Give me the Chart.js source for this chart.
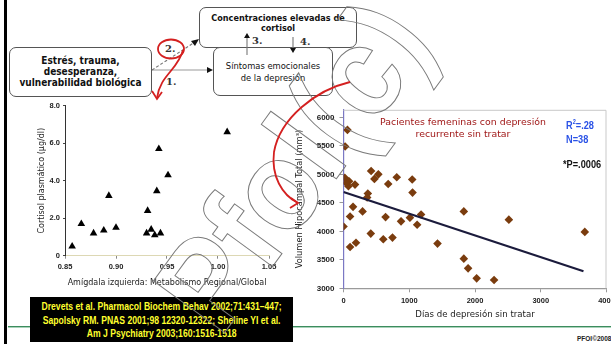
<!DOCTYPE html>
<html>
<head>
<meta charset="utf-8">
<script src="https://cdn.jsdelivr.net/npm/chart.js@4.4.1/dist/chart.umd.min.js"></script>
<style>
  html, body { margin: 0; padding: 0; }
  body { width: 611px; height: 344px; overflow: hidden; position: relative; background: #fff; font-family: "DejaVu Sans", sans-serif; }
  .abs { position: absolute; }
  .box { position: absolute; box-sizing: border-box; border: 1.3px solid #555; border-radius: 7px; background: #fff;
         text-align: center; color: #111; font-family: "DejaVu Sans Condensed", "DejaVu Sans", sans-serif; font-stretch: condensed; }
  #box1 { left: 9px; top: 47px; width: 143px; height: 50px; font-weight: bold; font-size: 10px; line-height: 11px; padding-top: 7px; }
  #box2 { left: 199px; top: 7px; width: 158px; height: 41px; font-weight: bold; font-size: 9px; line-height: 10px; padding-top: 5px; }
  #box3 { left: 213px; top: 47px; width: 120px; height: 49px; font-size: 9.3px; line-height: 11.5px; padding-top: 12px; z-index: 2; }
  .num { position: absolute; font: bold 10px "DejaVu Serif", serif; color: #333; }
  #bar { left: 4px; top: 0; width: 3px; height: 344px; background: #000; }
  #green1 { left: 8px; top: 326px; width: 603px; height: 1px; background: #3d8c5e; }
  #green2 { left: 8px; top: 327px; width: 603px; height: 1px; background: #a9d3ba; }
  #cite { left: 30px; top: 297px; width: 263px; height: 45px; background: #000; overflow: hidden; z-index: 3; }
  #cite div { width: 321px; transform-origin: 0 0; transform: scaleX(0.82); color: #ffff2e; font: bold 10.5px "Liberation Sans", sans-serif;
              line-height: 13.5px; text-align: center; padding-top: 3px; }
  #pfoi { left: 577px; top: 335px; font: bold 6.5px "Liberation Sans", sans-serif; color: #222; }
  #ttl { left: 363px; top: 116px; width: 200px; text-align: center; color: #a01818; font: 9.4px "DejaVu Sans", sans-serif; line-height: 12.3px; z-index: 4; }
  .stat { position: absolute; transform-origin: 0 0; transform: scaleX(0.8); font: bold 11.5px "Liberation Sans", sans-serif; white-space: nowrap; z-index: 4; }
  .stat sup { font-size: 7px; }
  #wm { left: 292px; top: 165px; transform: translate(-50%, -50%) rotate(-54deg) scaleX(0.92); font: bold 128px "Liberation Sans", sans-serif;
        color: transparent; -webkit-text-stroke: 1px #7a7a7a; line-height: 1; white-space: nowrap; pointer-events: none; z-index: 5; }
  #leftWrap { left: 0; top: 95px; width: 290px; height: 195px; }
  #rightWrap { left: 290px; top: 100px; width: 350px; height: 230px; }
  svg { position: absolute; left: 0; top: 0; z-index: 6; }
</style>
</head>
<body>

<div id="bar" class="abs"></div>
<div id="green1" class="abs"></div>
<div id="green2" class="abs"></div>

<div id="box2" class="box">Concentraciones elevadas de<br>cortisol</div>
<div id="box1" class="box">Estrés, trauma,<br>desesperanza,<br>vulnerabilidad biológica</div>
<div id="box3" class="box">Síntomas emocionales<br>de la depresión</div>
<div class="num" style="left:166px; top:76px;">1.</div>
<div class="num" style="left:165px; top:43px;">2.</div>
<div class="num" style="left:252px; top:35px;">3.</div>
<div class="num" style="left:300px; top:36px;">4.</div>

<div id="leftWrap" class="abs"><canvas id="cortisolChart" width="290" height="195"></canvas></div>
<div id="rightWrap" class="abs"><canvas id="hippoChart" width="350" height="230"></canvas></div>

<div id="ttl" class="abs">Pacientes femeninas con depresión<br>recurrente sin tratar</div>
<div class="stat" style="left:566px; top:118px; color:#2a52e6;">R<sup>2</sup>=.28</div>
<div class="stat" style="left:566px; top:133px; color:#2a52e6;">N=38</div>
<div class="stat" style="left:563px; top:158px; color:#111;">*P=.0006</div>

<div id="cite" class="abs"><div>Drevets et al. Pharmacol Biochem Behav 2002;71:431–447;<br>Sapolsky RM. PNAS 2001;98 12320-12322; Sheline YI et al.<br>Am J Psychiatry 2003;160:1516-1518</div></div>
<div id="pfoi" class="abs">PFOI©2008</div>

<div id="wm" class="abs">Pfol(c)</div>

<svg width="611" height="344" viewBox="0 0 611 344">
  <line x1="152" y1="70" x2="208" y2="70" stroke="#999" stroke-width="1.2"/>
  <polygon points="213,70 207,67 207,73" fill="#111"/>
  <line x1="152" y1="70" x2="195" y2="42" stroke="#777" stroke-width="1.1" stroke-dasharray="3,2"/>
  <polygon points="199,39 191,41 195,46" fill="#111"/>
  <line x1="247" y1="55" x2="247" y2="37" stroke="#777" stroke-width="1.1"/>
  <polygon points="247,33 244,38 250,38" fill="#111"/>
  <line x1="293" y1="37" x2="293" y2="48" stroke="#777" stroke-width="1.1"/>
  <polygon points="293,53 290,48 296,48" fill="#111"/>
  <ellipse cx="171" cy="49" rx="13" ry="9.5" fill="none" stroke="#d42020" stroke-width="1.8"/>
  <path d="M183,50 C178,70 160,75 157,98" fill="none" stroke="#d42020" stroke-width="1.8"/>
  <polyline points="152,91 157,99 162,92" fill="none" stroke="#d42020" stroke-width="1.8"/>
  <path d="M350,82 C316,90 280,118 274,152 C271,176 282,195 298,203" fill="none" stroke="#d42020" stroke-width="1.8"/>
  <polyline points="291,198 298,203 290,208" fill="none" stroke="#d42020" stroke-width="1.8"/>
</svg>

<script>
// left panel: amygdala metabolism vs plasma cortisol
const amygdalaRatio = [0.857, 0.866, 0.878, 0.888, 0.893, 0.900, 0.930, 0.931, 0.9345, 0.938, 0.9436, 0.940, 0.942, 0.951, 1.009];
const cortisolLevel = [0.5, 1.7, 1.2, 1.35, 3.2, 1.5, 1.2, 2.4, 1.4, 1.1, 1.2, 3.45, 5.7, 4.3, 6.6];
const amygdalaTicks = ['0.85', '0.90', '0.95', '1.00', '1.05'];
const cortisolTicks = ['0', '2.0', '4.0', '6.0', '8.0'];

// right panel: untreated depression days vs hippocampal volume
const untreatedDays = [60, 25, 20, 85, 75, 175, 40, 420, 530, 470, 680, 810, 1045, 1050, 370, 360, 145, 290, 100, 640,
  0, 875, 1010, 1180, 1120, 415, 605, 745, 190, 100, 1430, 1830, 1830, 1895, 2025, 2290, 2515, 3670];
const hippoVolume = [5780, 5490, 4940, 4880, 4790, 4820, 4850, 5060, 5000, 4920, 4830, 4950, 4910, 4680, 4665, 4595, 4430, 4350, 4260, 4250,
  4085, 4175, 4240, 4295, 4115, 3960, 3860, 3890, 3800, 3725, 3785, 4350, 3520, 3350, 3175, 3145, 4205, 3990];
const fitDays = [0, 3650];
const fitVolume = [4690, 3300];
const dayTicks = ['0', '1000', '2000', '3000', '4000'];
const volumeTicks = ['3000', '3500', '4000', '4500', '5000', '5500', '6000'];

const tickFrom = labels => scale => { scale.ticks = labels.map(t => ({ value: parseFloat(t) })); };
const labelFrom = labels => v => labels.find(t => Math.abs(parseFloat(t) - v) < 1e-6) || '';

const plotFrame = {
  id: 'plotFrame',
  afterDraw(chart) {
    if (!chart.options.plugins.plotFrame) return;
    const { ctx, chartArea: a } = chart;
    ctx.save();
    ctx.strokeStyle = '#c9c9c9';
    ctx.lineWidth = 1;
    ctx.beginPath();
    ctx.moveTo(a.left, a.top + 0.5);
    ctx.lineTo(a.right - 0.5, a.top + 0.5);
    ctx.lineTo(a.right - 0.5, a.bottom);
    ctx.stroke();
    ctx.restore();
  }
};

const tickFont = size => ({ family: 'Liberation Sans', weight: 'bold', size: size });

new Chart(document.getElementById('cortisolChart'), {
  type: 'scatter',
  data: {
    datasets: [{
      data: amygdalaRatio.map((x, i) => ({ x: x, y: cortisolLevel[i] })),
      pointStyle: 'triangle',
      pointRadius: 4.4,
      backgroundColor: '#000',
      borderColor: '#000',
      borderWidth: 0
    }]
  },
  options: {
    responsive: false,
    animation: false,
    devicePixelRatio: 1,
    layout: { padding: { top: 10.7, right: 21, left: 0, bottom: 0 } },
    plugins: { legend: { display: false }, tooltip: { enabled: false } },
    scales: {
      x: {
        type: 'linear', min: 0.85, max: 1.05,
        afterBuildTicks: tickFrom(amygdalaTicks),
        afterFit: s => { s.height = 34.3; },
        grid: { drawOnChartArea: false, tickLength: 3, color: '#888' },
        border: { color: '#ddd8b4', width: 1 },
        ticks: { color: '#222', font: tickFont(7.5), padding: 4, maxRotation: 0, callback: labelFrom(amygdalaTicks) },
        title: { display: true, text: 'Amígdala izquierda: Metabolismo Regional/Global', color: '#222',
                 font: { family: 'DejaVu Sans', size: 8 }, padding: { top: 0, bottom: 2.2 } }
      },
      y: {
        min: 0, max: 8,
        afterBuildTicks: tickFrom(cortisolTicks),
        afterFit: s => { s.width = 65; },
        grid: { drawOnChartArea: false, tickLength: 2, color: '#444' },
        border: { color: '#333', width: 1 },
        ticks: { color: '#222', font: tickFont(7.5), padding: 3, callback: labelFrom(cortisolTicks) },
        title: { display: true, text: 'Cortisol plasmático (µg/dl)', color: '#222',
                 font: { family: 'DejaVu Sans', size: 8 }, padding: { top: 37.2, bottom: 0 } }
      }
    }
  }
});

new Chart(document.getElementById('hippoChart'), {
  type: 'scatter',
  data: {
    datasets: [{
      type: 'line',
      data: fitDays.map((x, i) => ({ x: x, y: fitVolume[i] })),
      borderColor: '#1b1b3c',
      borderWidth: 2.2,
      pointRadius: 0,
      fill: false
    }, {
      data: untreatedDays.map((x, i) => ({ x: x, y: hippoVolume[i] })),
      pointStyle: 'rectRot',
      pointRadius: 4.3,
      backgroundColor: '#7a3c0e',
      borderColor: '#7a3c0e',
      borderWidth: 0
    }]
  },
  plugins: [plotFrame],
  options: {
    responsive: false,
    animation: false,
    devicePixelRatio: 1,
    layout: { padding: { top: 8, right: 33.5, left: 0, bottom: 0 } },
    plugins: { legend: { display: false }, tooltip: { enabled: false }, plotFrame: true },
    scales: {
      x: {
        type: 'linear', min: 0, max: 4000,
        afterBuildTicks: tickFrom(dayTicks),
        afterFit: s => { s.height = 41.7; },
        grid: { drawOnChartArea: false, tickLength: 4, color: '#999' },
        border: { color: '#9a9a9a', width: 1.2 },
        ticks: { color: '#222', font: tickFont(7.5), padding: 4, maxRotation: 0, callback: labelFrom(dayTicks) },
        title: { display: true, text: 'Días de depresión sin tratar', color: '#222',
                 font: { family: 'DejaVu Sans', size: 8.6 }, padding: { top: 0, bottom: 9.8 } }
      },
      y: {
        min: 3000, max: 6133,
        afterBuildTicks: tickFrom(volumeTicks),
        afterFit: s => { s.width = 53.5; },
        grid: { drawOnChartArea: false, tickLength: 4, color: '#999' },
        border: { color: '#7b78c4', width: 1.2 },
        ticks: { color: '#222', font: tickFont(8), padding: 5, callback: labelFrom(volumeTicks) },
        title: { display: true, text: 'Volumen Hipocampal Total (mm³)', color: '#222',
                 font: { family: 'DejaVu Sans', size: 8.3 }, padding: { top: 5, bottom: 0 } }
      }
    }
  }
});
</script>
</body>
</html>
